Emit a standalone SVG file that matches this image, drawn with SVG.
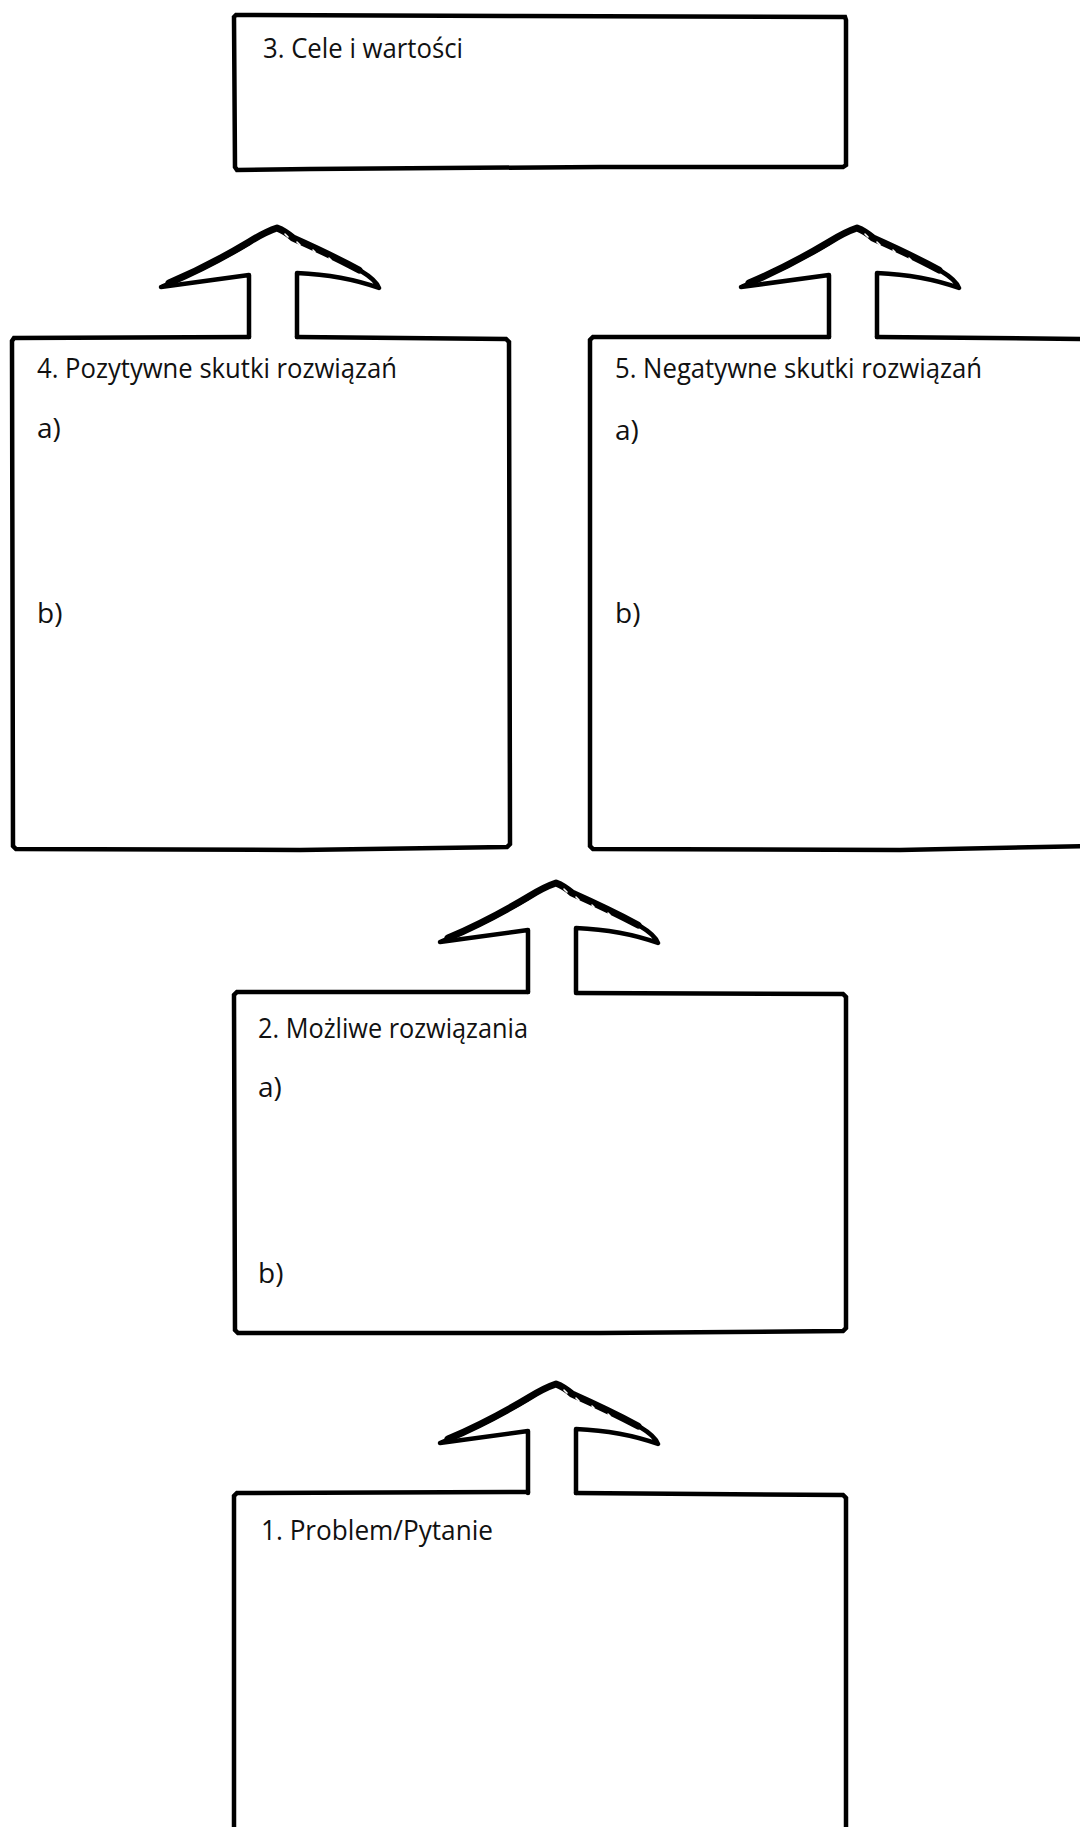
<svg xmlns="http://www.w3.org/2000/svg" xmlns:xlink="http://www.w3.org/1999/xlink" width="1080" height="1827" viewBox="0 0 1080 1827">
<style>
.box{fill:none;stroke:#000;stroke-width:4.5;stroke-linejoin:miter;stroke-linecap:round}
.arr{fill:none;stroke:#000;stroke-width:4.5;stroke-linejoin:round;stroke-linecap:round}
.arrtop{fill:none;stroke:#000;stroke-width:7;stroke-linejoin:round;stroke-linecap:round}
.spk{fill:none;stroke:#fff;stroke-width:1.6;stroke-linecap:round}
.t{font-family:"Open Sans","Noto Sans","DejaVu Sans",sans-serif;font-size:28px;font-weight:400;fill:#111}
</style>
<defs>
<g id="uparrow">
<path class="arr" d="M-24,0 L-24,-62 L-112,-50 Q-64,-70 -24,-94 Q-8,-105 4,-109 Q12,-106 20,-99 Q58,-82 88,-66 Q103,-57 106,-49 Q70,-62 24,-64 L24,0"/>
<path class="arrtop" d="M-104,-54 Q-64,-71 -24,-95 Q-8,-105 4,-109 Q12,-106 20,-99 Q58,-82 86,-67"/>
<path class="spk" d="M12,-103 l3,3 M24,-95 l3,3 M40,-87 l2,2 M56,-79 l2,2"/>
</g>
</defs>
<rect width="1080" height="1827" fill="#fff"/>
<g id="connectors">
<use xlink:href="#uparrow" href="#uparrow" transform="translate(273,337)"/>
<use xlink:href="#uparrow" href="#uparrow" transform="translate(853,337)"/>
<use xlink:href="#uparrow" href="#uparrow" transform="translate(552,992)"/>
<use xlink:href="#uparrow" href="#uparrow" transform="translate(552,1493)"/>
</g>
<g id="node3">
<path class="box" d="M234,17 L236,15 L520,16 L845,17 L846,20 L846,165 L843,167 L600,167 L310,169 L237,170 L235,167 Z"/>
<text class="t" x="263" y="58" textLength="200" lengthAdjust="spacingAndGlyphs">3. Cele i wartości</text>
</g>
<g id="node4">
<path class="box" d="M249,337 L14,338 L12,341 L13,846 L16,849 L300,850 L507,847 L510,844 L509,342 L506,339 L297,337"/>
<text class="t" x="37" y="378" textLength="360" lengthAdjust="spacingAndGlyphs">4. Pozytywne skutki rozwiązań</text>
<text class="t" x="37" y="438">a)</text>
<text class="t" x="37" y="623">b)</text>
</g>
<g id="node5">
<path class="box" d="M829,337 L593,337 L590,340 L590,846 L593,849 L900,850 L1090,846 L1090,339 L877,337"/>
<text class="t" x="615" y="378" textLength="367" lengthAdjust="spacingAndGlyphs">5. Negatywne skutki rozwiązań</text>
<text class="t" x="615" y="440">a)</text>
<text class="t" x="615" y="623">b)</text>
</g>
<g id="node2">
<path class="box" d="M528,992 L237,992 L234,995 L235,1330 L238,1333 L600,1333 L843,1331 L846,1328 L846,997 L843,994 L576,993"/>
<text class="t" x="258" y="1038" textLength="270" lengthAdjust="spacingAndGlyphs">2. Możliwe rozwiązania</text>
<text class="t" x="258" y="1097">a)</text>
<text class="t" x="258" y="1283">b)</text>
</g>
<g id="node1">
<path class="box" d="M528,1492 L237,1493 L234,1496 L234,1840"/>
<path class="box" d="M846,1840 L846,1498 L843,1495 L576,1493"/>
<text class="t" x="261" y="1540" textLength="232" lengthAdjust="spacingAndGlyphs">1. Problem/Pytanie</text>
</g>
</svg>
